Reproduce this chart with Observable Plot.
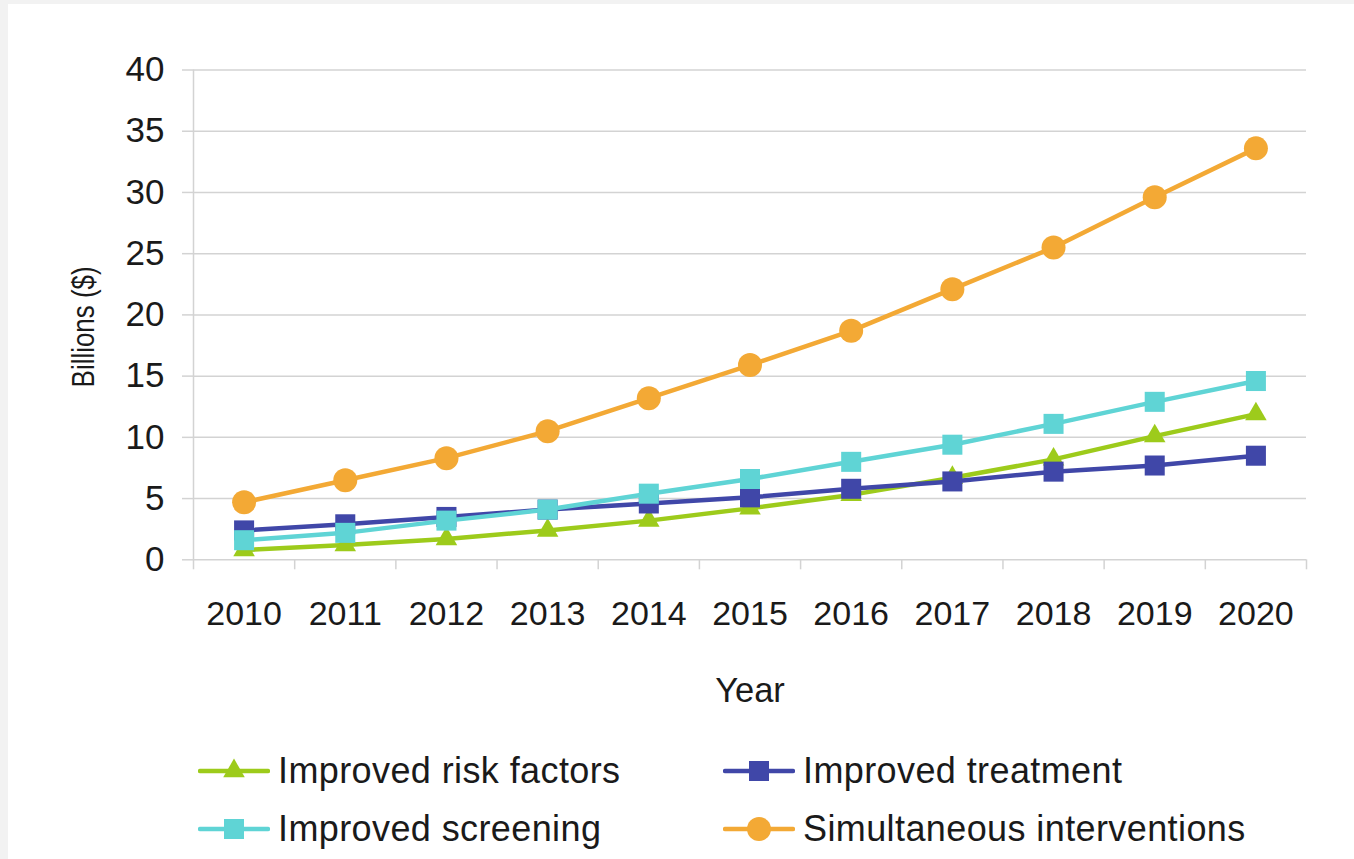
<!DOCTYPE html>
<html>
<head>
<meta charset="utf-8">
<script src="https://cdn.jsdelivr.net/npm/d3@7"></script>
<script src="https://cdn.jsdelivr.net/npm/@observablehq/plot@0.6"></script>
<style>
  html, body { margin: 0; padding: 0; background: #f2f2f2; }
  #panel {
    position: absolute; left: 8px; top: 4px; width: 1346px; height: 855px;
    background: #ffffff; overflow: hidden;
    font-family: "Liberation Sans", Arial, sans-serif; color: #1a1a1a;
  }
  #chart svg { display: block; }
  .item {
    position: absolute; height: 40px; display: flex; align-items: center;
    font-size: 36px; letter-spacing: 0.4px; white-space: nowrap; color: #1a1a1a;
  }
  .item svg { display: block; margin-right: 8px; }
</style>
</head>
<body>
<div id="panel">
  <div id="chart"></div>
  <div id="legend"></div>
</div>
<script>
// Projected cumulative savings, billions of dollars, by year
const years = [2010, 2011, 2012, 2013, 2014, 2015, 2016, 2017, 2018, 2019, 2020];
const riskFactors  = [0.8, 1.2, 1.7, 2.4, 3.2, 4.2, 5.3, 6.7, 8.2, 10.1, 11.9];
const treatment    = [2.4, 2.9, 3.5, 4.1, 4.6, 5.1, 5.8, 6.4, 7.2, 7.7, 8.5];
const screening    = [1.6, 2.2, 3.2, 4.1, 5.4, 6.6, 8.0, 9.4, 11.1, 12.9, 14.6];
const simultaneous = [4.7, 6.5, 8.3, 10.5, 13.2, 15.9, 18.7, 22.1, 25.5, 29.6, 33.6];

const seriesNames   = ["Improved risk factors", "Improved treatment", "Improved screening", "Simultaneous interventions"];
const seriesValues  = [riskFactors, treatment, screening, simultaneous];
const seriesColors  = ["#9dcb1b", "#4047a8", "#5fd4d5", "#f3a935"];
const seriesSymbols = ["triangle", "square", "square", "circle"];
const seriesRadius  = [8, 11.3, 11.3, 12];

const yTicks = [0, 5, 10, 15, 20, 25, 30, 35, 40];
const yLabel = "Billions ($)";
const xLabel = "Year";

// Long table: one row per series and year
const rows = seriesNames.flatMap((name, i) =>
  years.map((year, j) => ({series: name, year, value: seriesValues[i][j]}))
);
// Category boundaries for the x tick marks
const boundaries = years.map(y => y - 0.5).concat([years[years.length - 1] + 0.5]);

const grid = "#d3d3d3";
const W = 1346, H = 720;

const seriesMarks = seriesNames.flatMap((name, i) => {
  const data = rows.filter(d => d.series === name);
  return [
    Plot.line(data, {x: "year", y: "value", stroke: seriesColors[i], strokeWidth: 4.5, strokeLinejoin: "round"}),
    Plot.dot(data, {x: "year", y: "value", symbol: seriesSymbols[i], r: seriesRadius[i], fill: seriesColors[i], stroke: "none"})
  ];
});

const chart = Plot.plot({
  width: W,
  height: H,
  marginLeft: 185,
  marginRight: 48,
  marginTop: 65.5,
  marginBottom: H - 555.3,
  style: {fontFamily: "'Liberation Sans', Arial, sans-serif", background: "transparent", color: "#1a1a1a"},
  x: {domain: [boundaries[0], boundaries[boundaries.length - 1]]},
  y: {domain: [0, 40]},
  marks: [
    Plot.gridY(yTicks, {stroke: grid, strokeOpacity: 1, strokeWidth: 1.5}),
    Plot.axisY(yTicks, {tickSize: 11, tickPadding: 18, stroke: grid, strokeWidth: 1.5, fontSize: 35, fill: "#1a1a1a", label: null}),
    Plot.ruleX([boundaries[0]], {stroke: grid, strokeWidth: 1.5}),
    Plot.axisX(boundaries, {tickSize: 10, tickFormat: () => "", stroke: grid, strokeWidth: 1.5, label: null}),
    Plot.axisX(years, {tickSize: 0, tickPadding: 41.2, tickFormat: d => String(d), fontSize: 34, fill: "#1a1a1a", label: null}),
    Plot.text([xLabel], {frameAnchor: "bottom", lineAnchor: "middle", textAnchor: "middle", dy: 130.7, fontSize: 34.5, fill: "#1a1a1a"}),
    Plot.text([yLabel], {frameAnchor: "left", lineAnchor: "middle", textAnchor: "middle", rotate: -90, dx: -110, dy: 12, fontSize: 32, fill: "#1a1a1a", className: "ylabel"}),
    ...seriesMarks
  ]
});
document.getElementById("chart").appendChild(chart);
// The axis title is set in a narrower width than the regular face
d3.select(chart).selectAll(".ylabel text")
  .attr("textLength", 121).attr("lengthAdjust", "spacingAndGlyphs");

// Legend below the chart, two rows of two entries
const legendPos = [
  {left: 190, top: 747},
  {left: 715, top: 747},
  {left: 190, top: 805},
  {left: 715, top: 805}
];
const legend = d3.select("#legend");
seriesNames.forEach((name, i) => {
  const item = legend.append("div").attr("class", "item")
    .style("left", legendPos[i].left + "px").style("top", legendPos[i].top + "px");
  const sw = item.append("svg").attr("width", 72).attr("height", 30);
  sw.append("line").attr("x1", 2).attr("x2", 70).attr("y1", 15).attr("y2", 15)
    .attr("stroke", seriesColors[i]).attr("stroke-width", 4.5).attr("stroke-linecap", "round");
  const type = {triangle: d3.symbolTriangle, square: d3.symbolSquare, circle: d3.symbolCircle}[seriesSymbols[i]];
  const r = seriesRadius[i];
  sw.append("path").attr("transform", "translate(36,15)")
    .attr("d", d3.symbol(type, Math.PI * r * r)())
    .attr("fill", seriesColors[i]);
  item.append("span").text(name);
});
</script>
</body>
</html>
